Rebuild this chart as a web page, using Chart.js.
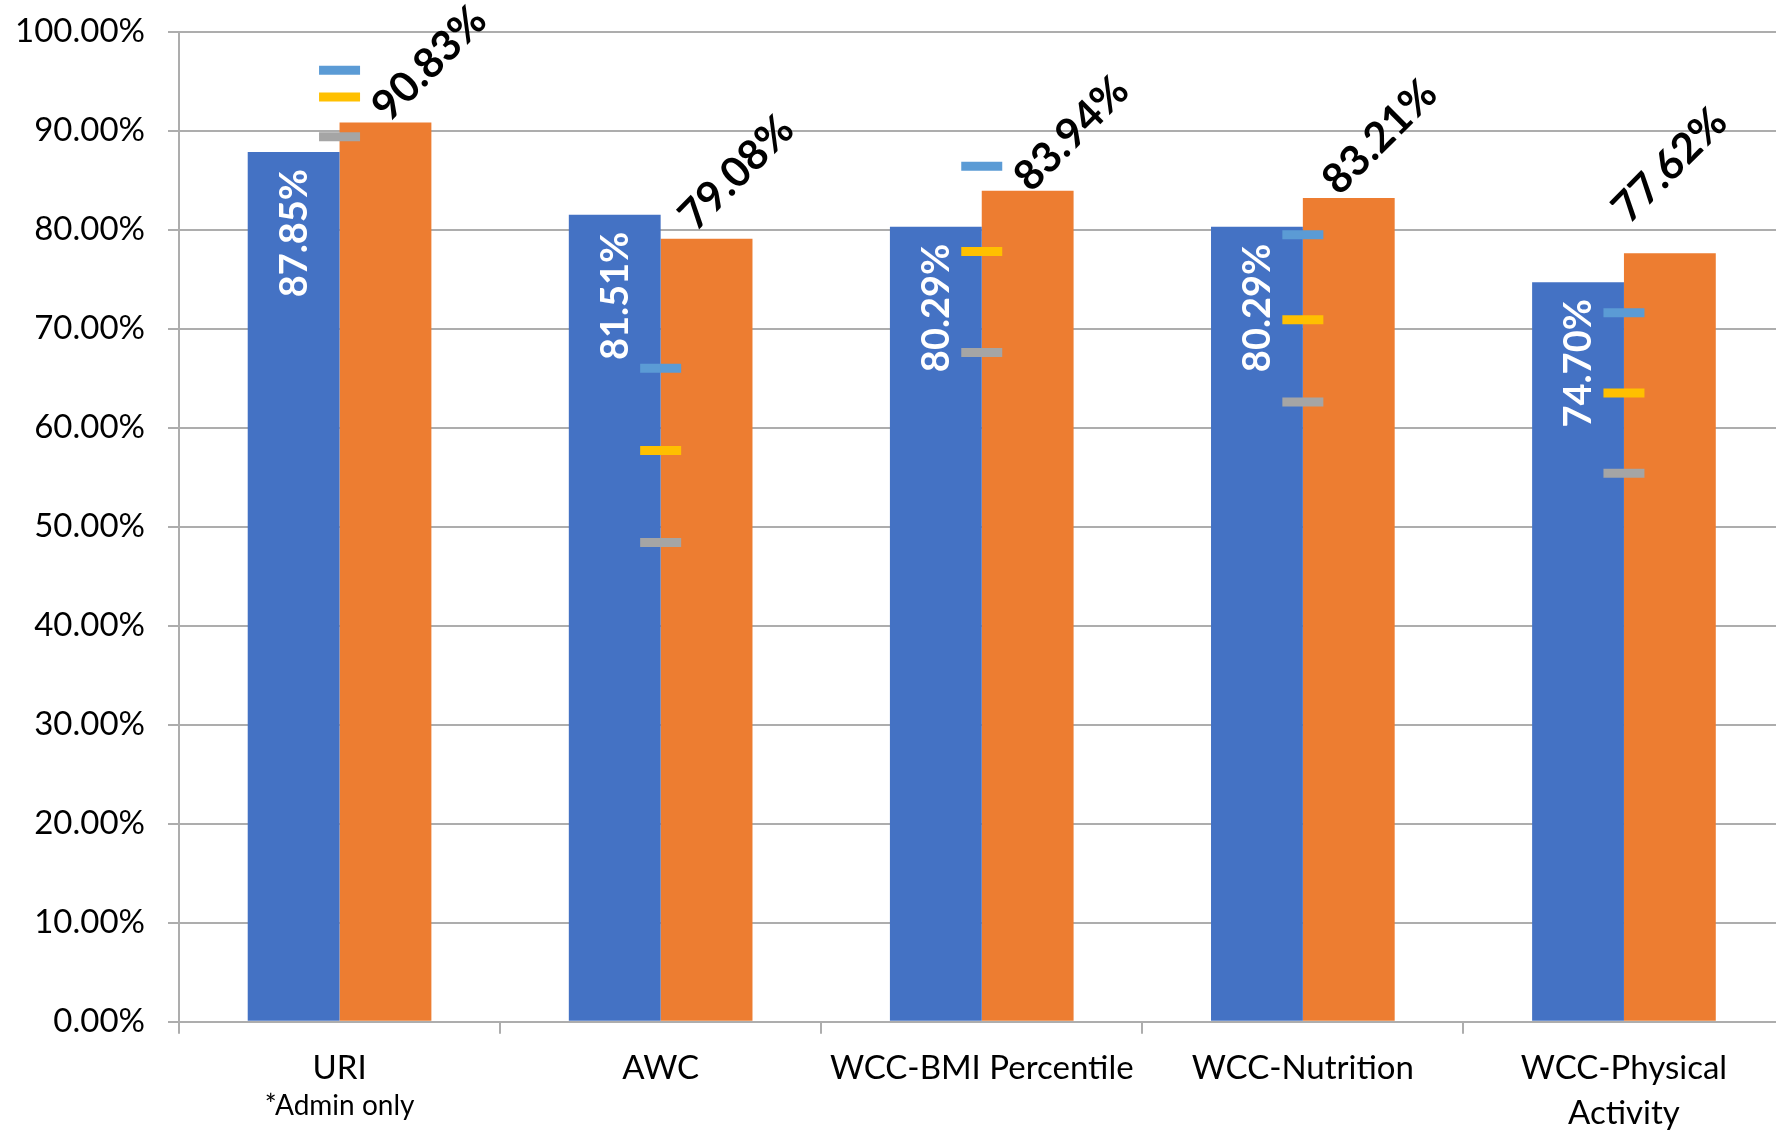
<!DOCTYPE html>
<html>
<head>
<meta charset="utf-8">
<script src="https://cdn.jsdelivr.net/npm/chart.js@4.4.1/dist/chart.umd.min.js"></script>
<style>
  html, body { margin: 0; padding: 0; background: #fff; overflow: hidden; width: 1776px; height: 1133px; }
  #wrap { position: absolute; left: 0; top: 0; width: 1814px; height: 1133px; }
</style>
</head>
<body>
<div id="wrap"><canvas id="chart" width="1814" height="1133"></canvas></div>
<script>
// Measures shown along the category axis
const categories = ['URI', 'AWC', 'WCC-BMI Percentile', 'WCC-Nutrition', ['WCC-Physical', 'Activity']];
const categoryNote = '*Admin only';

// Rates (percent) for the two measurement years
const ratesPrior = [87.85, 81.51, 80.29, 80.29, 74.70];
const ratesCurrent = [90.83, 79.08, 83.94, 83.21, 77.62];

// Benchmark markers (percent)
const benchmarkHigh = [96.1, 66.0, 86.4, 79.5, 71.6];
const benchmarkMid = [93.4, 57.7, 77.8, 70.9, 63.5];
const benchmarkLow = [89.4, 48.4, 67.6, 62.6, 55.4];

// Value axis
const yMin = 0;
const yMax = 100;
const yStep = 10;

const FONT = 'Lato, "Open Sans", sans-serif';
const GRID = '#ADADAD';

const pct = v => v.toFixed(2) + '%';

// Offsets of the rotated labels above the current-year bars
const currentLabelNudge = [
  { dx: 44, dy: -59 },
  { dx: 30, dy: -66 },
  { dx: 44, dy: -57 },
  { dx: 31, dy: -61 },
  { dx: 0, dy: -88 }
];

const valueLabels = {
  id: 'valueLabels',
  afterDatasetsDraw(chart) {
    const ctx = chart.ctx;
    const metaPrior = chart.getDatasetMeta(3);
    const metaCurrent = chart.getDatasetMeta(4);

    // prior-year values: white, vertical, inside the top of the bar
    ctx.save();
    ctx.fillStyle = '#ffffff';
    ctx.font = 'bold 38px ' + FONT;
    ctx.textAlign = 'right';
    ctx.textBaseline = 'middle';
    metaPrior.data.forEach((el, i) => {
      ctx.save();
      ctx.translate(el.x + 1, el.y + 17);
      ctx.rotate(-Math.PI / 2);
      ctx.fillText(pct(ratesPrior[i]), 0, 0);
      ctx.restore();
    });
    ctx.restore();

    // current-year values: black, diagonal, above the bar
    ctx.save();
    ctx.fillStyle = '#000000';
    ctx.font = 'bold 42px ' + FONT;
    ctx.textAlign = 'center';
    ctx.textBaseline = 'middle';
    metaCurrent.data.forEach((el, i) => {
      const n = currentLabelNudge[i];
      ctx.save();
      ctx.translate(el.x + n.dx, el.y + n.dy);
      ctx.rotate(-Math.PI / 4);
      ctx.fillText(pct(ratesCurrent[i]), 0, 0);
      ctx.restore();
    });
    ctx.restore();
  },
  afterDraw(chart) {
    // small note under the first category name
    const ctx = chart.ctx;
    const x = chart.scales.x.getPixelForValue(0);
    ctx.save();
    ctx.fillStyle = '#000000';
    ctx.font = '28px ' + FONT;
    ctx.textAlign = 'center';
    ctx.textBaseline = 'alphabetic';
    ctx.fillText(categoryNote, x, 1115);
    ctx.restore();
  }
};

const marker = (data, color) => ({
  type: 'line',
  data,
  showLine: false,
  borderColor: color,
  backgroundColor: color,
  pointStyle: 'line',
  pointRadius: 20.5,
  pointHoverRadius: 20.5,
  pointBorderWidth: 9,
  pointHoverBorderWidth: 9,
  order: 0
});

new Chart(document.getElementById('chart'), {
  type: 'bar',
  data: {
    labels: categories,
    datasets: [
      marker(benchmarkHigh, '#5B9BD5'),
      marker(benchmarkMid, '#FFC000'),
      marker(benchmarkLow, '#A5A5A5'),
      { type: 'bar', data: ratesPrior, backgroundColor: '#4472C4', order: 1 },
      { type: 'bar', data: ratesCurrent, backgroundColor: '#ED7D31', order: 1 }
    ]
  },
  options: {
    responsive: false,
    animation: false,
    events: [],
    datasets: {
      bar: { categoryPercentage: 0.572, barPercentage: 1.0 }
    },
    layout: { padding: { top: 31.7, right: 17, left: 0, bottom: 0 } },
    plugins: {
      legend: { display: false },
      tooltip: { enabled: false }
    },
    scales: {
      x: {
        grid: {
          offset: true,
          drawOnChartArea: false,
          drawTicks: true,
          tickLength: 12,
          color: GRID,
          lineWidth: 2
        },
        border: { display: true, color: GRID, width: 2 },
        ticks: {
          color: '#000000',
          font: { family: FONT, size: 33, lineHeight: 1.36 },
          padding: 12,
          maxRotation: 0,
          autoSkip: false
        },
        afterFit(scale) {
          scale.height = 111.3;
          scale.paddingLeft = 0;
          scale.paddingRight = 0;
        }
      },
      y: {
        min: yMin,
        max: yMax,
        grid: {
          color: GRID,
          lineWidth: 2,
          drawTicks: true,
          tickLength: 11
        },
        border: { display: true, color: GRID, width: 2 },
        ticks: {
          stepSize: yStep,
          color: '#000000',
          font: { family: FONT, size: 33 },
          padding: 23,
          callback: v => pct(v)
        },
        afterFit(scale) {
          scale.width = 179;
          scale.paddingTop = 0;
          scale.paddingBottom = 0;
        }
      }
    }
  },
  plugins: [valueLabels]
});
</script>
</body>
</html>
